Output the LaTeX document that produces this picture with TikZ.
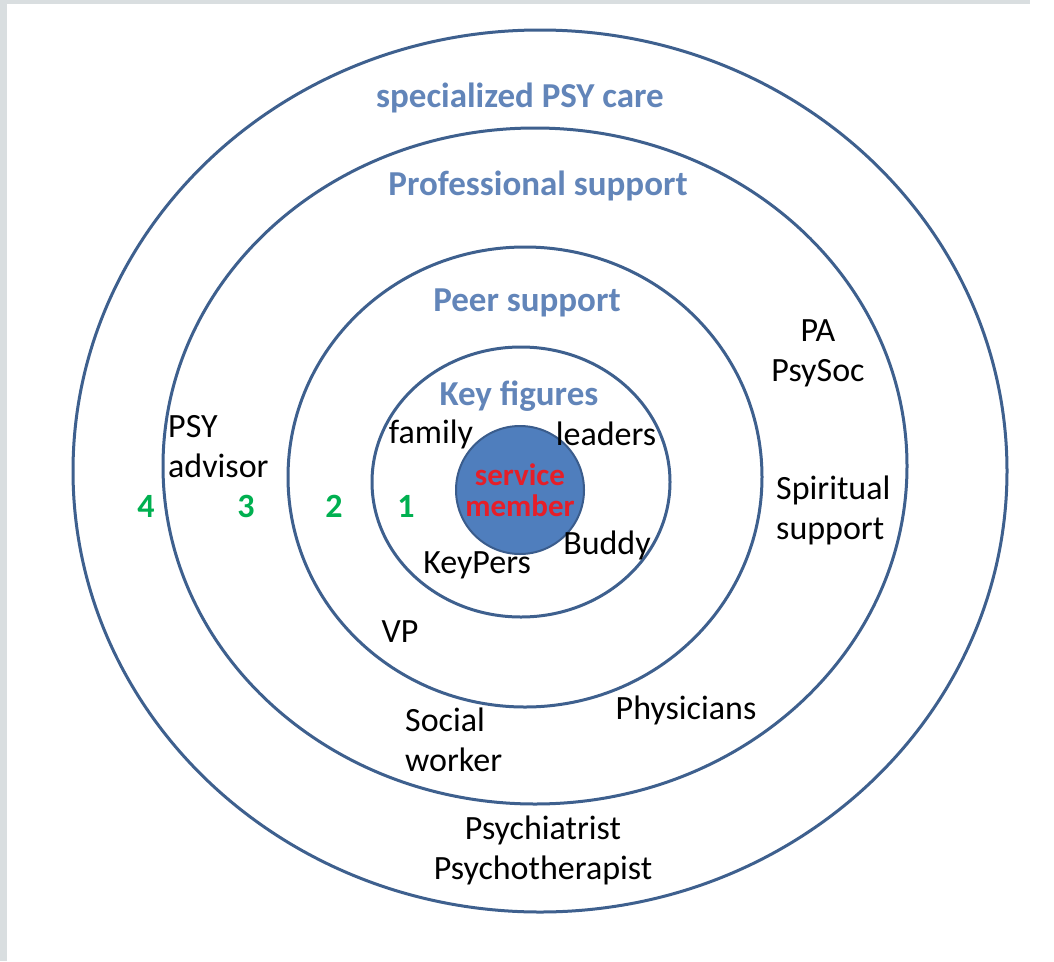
\documentclass[tikz,border=0pt]{standalone}
\usepackage{fontspec}
\setmainfont{Carlito}
\definecolor{ringc}{RGB}{62,96,142}
\definecolor{headc}{RGB}{98,133,185}
\definecolor{numc}{RGB}{0,176,80}
\definecolor{svcfill}{RGB}{79,126,189}
\definecolor{svcline}{RGB}{58,92,140}
\definecolor{svctext}{RGB}{230,30,40}
\definecolor{bordc}{RGB}{217,222,224}
\begin{document}
\begin{tikzpicture}[x=1pt,y=-1pt,
 ring/.style={draw=ringc, line width=3pt},
 head/.style={text=headc, font=\fontsize{35}{40}\selectfont\bfseries, inner sep=0pt},
 lab/.style={text=black, font=\fontsize{34}{40}\selectfont, inner sep=0pt, align=center},
 labl/.style={lab, align=left, anchor=west},
 num/.style={text=numc, font=\fontsize{34}{38}\selectfont\bfseries, inner sep=0pt},
 svc/.style={circle, draw=svcline, line width=2pt, fill=svcfill, minimum size=128pt, inner sep=0pt, text=svctext, font=\fontsize{31}{33}\selectfont\bfseries, align=center}]
\useasboundingbox (0,0) rectangle (1054,961);
\fill[white] (0,0) rectangle (1054,961);
\fill[bordc] (0,0) rectangle (7,961);
\fill[bordc] (0,0) rectangle (1030,4);
% rings
\draw[ring] (540,471) ellipse [x radius=467, y radius=441];
\draw[ring] (535,466) ellipse [x radius=372, y radius=338];
\draw[ring] (525,477) ellipse [x radius=237, y radius=230];
\draw[ring] (521,482) ellipse [x radius=149, y radius=135];
\node[svc] (sm) at (520,490) {service\\[-2pt]member};
% headings
\node[head] (h4) at (520,98) {specialized PSY care};
\node[head] (h3) at (538,186) {Professional support};
\node[head] (h2) at (527,303) {Peer support};
\node[head] (h1) at (519,396) {Key figures};
% numbers
\node[num] (n4) at (146,506) {4};
\node[num] (n3) at (246,506) {3};
\node[num] (n2) at (334,506) {2};
\node[num] (n1) at (406,506) {1};
% labels
\node[lab] (family) at (431,434) {family};
\node[lab] (leaders) at (606,434) {leaders};
\node[lab] (buddy) at (607,545) {Buddy};
\node[lab] (keypers) at (477,565) {KeyPers};
\node[lab] (vp) at (400,632) {VP};
\node[labl] (psyadv) at (168,447) {PSY\\advisor};
\node[lab] (pa) at (818,353) {PA\\PsySoc};
\node[labl] (spirit) at (776,510) {Spiritual\\support};
\node[labl] (social) at (405,740) {Social\\worker};
\node[lab] (phys) at (686,710) {Physicians};
\node[lab] (psych) at (543,850) {Psychiatrist\\Psychotherapist};
\end{tikzpicture}
\end{document}
